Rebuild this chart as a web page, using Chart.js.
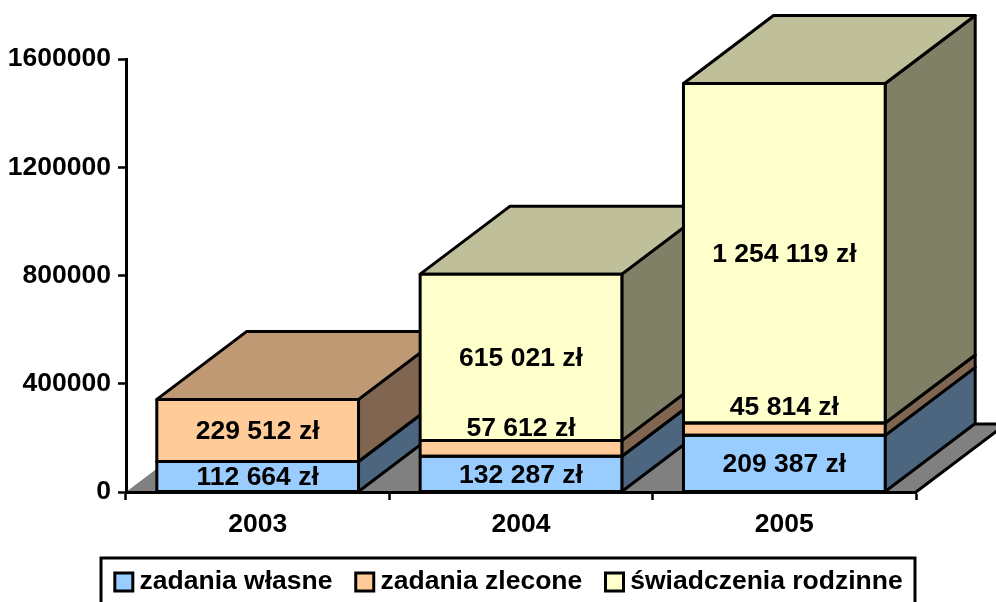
<!DOCTYPE html>
<html>
<head>
<meta charset="utf-8">
<style>html,body{margin:0;padding:0;background:#fff;overflow:hidden}canvas{display:block}</style>
<script src="https://cdn.jsdelivr.net/npm/chart.js@4"></script>
</head>
<body>
<canvas id="c" width="996" height="602"></canvas>
<script>
const categories = ['2003', '2004', '2005'];
const seriesNames = ['zadania własne', 'zadania zlecone', 'świadczenia rodzinne'];
const zadaniaWlasne = [112664, 132287, 209387];
const zadaniaZlecone = [229512, 57612, 45814];
const swiadczeniaRodzinne = [null, 615021, 1254119];
const yTicks = [0, 400000, 800000, 1200000, 1600000];

const frontColors = ['#99CCFF', '#FFCC99', '#FFFFCC'];
const sideColors = ['#4D6680', '#806650', '#808066'];
const topColors = ['#7399BF', '#BF9973', '#BFBF99'];
const FONT = {family: '"Liberation Sans", Arial, sans-serif', weight: 'bold', size: 26.5};
const DX = 90, DY = 68, LW = 3;

function quad(ctx, pts, fill) {
  ctx.beginPath();
  pts.forEach((p, i) => i ? ctx.lineTo(p[0], p[1]) : ctx.moveTo(p[0], p[1]));
  ctx.closePath();
  if (fill) { ctx.fillStyle = fill; ctx.fill(); }
  ctx.stroke();
}
function fmt(v) { return String(v).replace(/\B(?=(\d{3})+$)/g, ' ') + ' zł'; }

const depth3d = {
  id: 'depth3d',
  afterLayout(chart) {
    const lg = chart.legend;
    const h = lg.bottom - lg.top;
    lg.left = 5; lg.right = 1019; lg.top = 539; lg.bottom = 539 + h;
  },
  beforeDatasetsDraw(chart) {
    const ctx = chart.ctx, a = chart.chartArea;
    ctx.save();
    ctx.lineWidth = LW; ctx.strokeStyle = '#000'; ctx.lineJoin = 'round';
    ctx.beginPath();
    ctx.moveTo(a.left, a.bottom); ctx.lineTo(a.left + DX, a.bottom - DY);
    ctx.lineTo(a.right + DX, a.bottom - DY); ctx.lineTo(a.right, a.bottom); ctx.closePath();
    ctx.fillStyle = '#808080'; ctx.fill();
    ctx.beginPath();
    ctx.moveTo(a.left + DX, a.bottom - DY);
    ctx.lineTo(a.right + DX, a.bottom - DY); ctx.lineTo(a.right, a.bottom);
    ctx.stroke();
    categories.forEach((_, i) => {
      let topEl = null, topDs = 0;
      chart.data.datasets.forEach((ds, d) => {
        if (ds.data[i] == null) return;
        const el = chart.getDatasetMeta(d).data[i];
        const r = el.x + el.width / 2 - 1;
        quad(ctx, [[r, el.y], [r + DX, el.y - DY], [r + DX, el.base - DY], [r, el.base]], sideColors[d]);
        topEl = el; topDs = d;
      });
      const l = topEl.x - topEl.width / 2 + 1, r = topEl.x + topEl.width / 2 - 1, y = topEl.y;
      quad(ctx, [[l, y], [l + DX, y - DY], [r + DX, y - DY], [r, y]], topColors[topDs]);
    });
    ctx.restore();
  },
  afterDatasetsDraw(chart) {
    const ctx = chart.ctx;
    ctx.save();
    ctx.lineWidth = LW; ctx.strokeStyle = '#000'; ctx.lineJoin = 'round';
    chart.data.datasets.forEach((ds, d) => {
      chart.getDatasetMeta(d).data.forEach((el, i) => {
        if (ds.data[i] == null) return;
        ctx.strokeRect(el.x - el.width / 2 + 1, el.y, el.width - 2, el.base - el.y);
      });
    });
    ctx.font = `${FONT.weight} ${FONT.size}px ${FONT.family}`;
    ctx.fillStyle = '#000'; ctx.textAlign = 'center'; ctx.textBaseline = 'middle';
    chart.data.datasets.forEach((ds, d) => {
      chart.getDatasetMeta(d).data.forEach((el, i) => {
        if (ds.data[i] == null) return;
        const h = el.base - el.y;
        const y = h < 20 ? el.base - 29 : (el.y + el.base) / 2;
        ctx.fillText(fmt(ds.data[i]), el.x, y + 1.5);
      });
    });
    ctx.restore();
  },
  afterDraw(chart) {
    const ctx = chart.ctx, lg = chart.legend;
    ctx.save();
    ctx.lineWidth = 3; ctx.strokeStyle = '#000';
    ctx.strokeRect(lg.left + 96, lg.top + 19, 814, 80);
    ctx.restore();
  }
};

const seriesValues = [zadaniaWlasne, zadaniaZlecone, swiadczeniaRodzinne];
new Chart(document.getElementById('c'), {
  type: 'bar',
  data: {
    labels: categories,
    datasets: seriesNames.map((n, i) => ({
      label: n,
      data: seriesValues[i],
      backgroundColor: frontColors[i],
      borderWidth: 0,
      barPercentage: 0.7736,
      categoryPercentage: 1
    }))
  },
  options: {
    responsive: false,
    animation: false,
    layout: {padding: {top: 59, right: 80, left: 0, bottom: 0}},
    plugins: {
      tooltip: {enabled: false},
      legend: {
        position: 'bottom',
        labels: {
          color: '#000',
          font: FONT,
          usePointStyle: true,
          pointStyle: 'rect',
          boxWidth: 5,
          boxHeight: 18,
          padding: 29.75,
          generateLabels(chart) {
            return seriesNames.map((n, i) => ({
              text: n, fillStyle: frontColors[i], strokeStyle: '#000',
              lineWidth: 3, pointStyle: 'rect', datasetIndex: i
            }));
          }
        }
      }
    },
    scales: {
      x: {
        stacked: true,
        afterFit(s) { s.height = 602 - 492 - s.chart.legend.height; },
        grid: {drawOnChartArea: false, color: '#000', tickColor: '#000', tickLength: 8, tickWidth: 2.5},
        border: {color: '#000', width: 3, z: 1},
        ticks: {color: '#000', font: FONT, padding: 9, maxRotation: 0}
      },
      y: {
        stacked: true,
        min: 0,
        max: 1600000,
        afterFit(s) { s.width = 126; },
        afterBuildTicks(s) { s.ticks = yTicks.map(v => ({value: v})); },
        grid: {drawOnChartArea: false, color: '#000', tickColor: '#000', tickLength: 8, tickWidth: 2.5},
        border: {color: '#000', width: 3, z: 1},
        ticks: {color: '#000', font: FONT, padding: 7, callback: v => String(v)}
      }
    }
  },
  plugins: [depth3d]
});
</script>
</body>
</html>
